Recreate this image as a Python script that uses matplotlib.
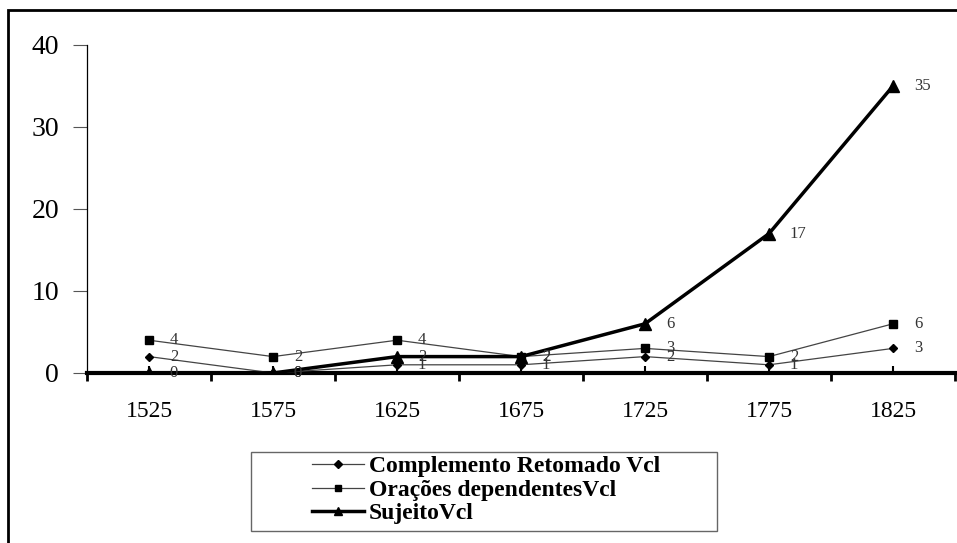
import matplotlib
matplotlib.use("Agg")
import matplotlib.pyplot as plt
from matplotlib.patches import Rectangle

categories = ["1525", "1575", "1625", "1675", "1725", "1775", "1825"]
complemento = [2, 0, 1, 1, 2, 1, 3]
oracoes = [4, 2, 4, 2, 3, 2, 6]
sujeito = [0, 0, 2, 2, 6, 17, 35]
series_names = ["Complemento Retomado Vcl", "Orações dependentesVcl", "SujeitoVcl"]
y_ticks = [0, 10, 20, 30, 40]

plt.rcParams['font.family'] = ['Liberation Serif', 'DejaVu Serif']

W, H = 957, 543
fig = plt.figure(figsize=(W / 100, H / 100), dpi=100)

# outer frame
fig.patches.append(Rectangle((8 / W, -0.1), 1.2, 1 - 10 / H + 0.1, transform=fig.transFigure,
                             fill=False, edgecolor='black', linewidth=2))

ax = fig.add_axes([87 / W, 1 - 373 / H, (955 - 87) / W, (373 - 45) / H])
x = list(range(len(categories)))

ax.plot(x, complemento, color='#444444', lw=0.9, marker='D', ms=4.5,
        mfc='black', mec='black', label=series_names[0], zorder=3)
ax.plot(x, oracoes, color='#444444', lw=0.9, marker='s', ms=5.5,
        mfc='black', mec='black', label=series_names[1], zorder=3)
ax.plot(x, sujeito, color='black', lw=2.5, marker='^', ms=8,
        mfc='black', mec='black', label=series_names[2], zorder=4)

for series in (complemento, oracoes, sujeito):
    for xi, v in zip(x, series):
        ax.annotate(str(v), (xi, v), xytext=(15, 0), textcoords='offset points',
                    ha='left', va='center', fontsize=12, color='#333333', zorder=5)

ax.set_xlim(-0.5, len(categories) - 0.5)
ax.set_ylim(0, 40)
ax.set_yticks(y_ticks)
ax.set_yticklabels([str(t) for t in y_ticks], fontsize=20)
ax.tick_params(axis='y', direction='out', length=10, width=0.8, pad=10, color='#555555')

ax.set_xticks([i - 0.5 for i in range(len(categories) + 1)])
ax.set_xticklabels([])
ax.set_xticks(x, minor=True)
ax.set_xticklabels(categories, minor=True, fontsize=17)
ax.tick_params(axis='x', which='major', direction='out', length=6, width=2, color='black')
ax.tick_params(axis='x', which='minor', direction='in', length=5, width=1.5, pad=20, color='black')

for s in ('top', 'right'):
    ax.spines[s].set_visible(False)
ax.spines['left'].set_linewidth(0.9)
ax.spines['bottom'].set_linewidth(3)
ax.spines['bottom'].set_zorder(2)

# legend box
fig.patches.append(Rectangle((251 / W, 1 - 531 / H), (717 - 251) / W, (531 - 452) / H,
                             transform=fig.transFigure, fill=False, edgecolor='#666666', linewidth=1))
leg = fig.legend(loc='center', bbox_to_anchor=(486 / W, 1 - 490 / H), frameon=False,
                 prop={'weight': 'bold', 'size': 17}, handlelength=2.2, handletextpad=0.2,
                 labelspacing=0.08, borderpad=0, markerscale=0.8)

fig.savefig("out.png", dpi=100)
